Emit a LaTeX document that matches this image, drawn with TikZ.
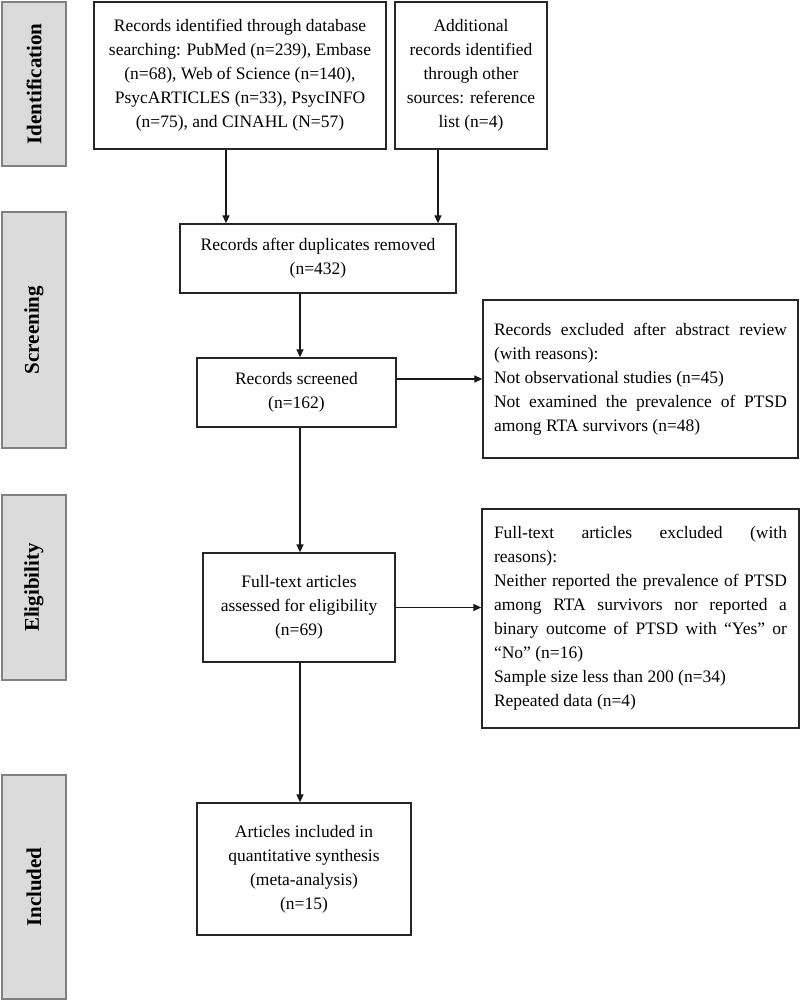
\documentclass[tikz,border=0pt]{standalone}
\usepackage{fontspec}
\setmainfont{Liberation Serif}
\usetikzlibrary{arrows.meta}
\newcommand{\mainsz}{\fontsize{17.5bp}{24bp}\selectfont}
\newcommand{\labsz}{\fontsize{21bp}{25bp}\selectfont}
\newcommand{\exsetup}{\setlength{\parindent}{0pt}\setlength{\parskip}{0pt}\hyphenpenalty=10000\relax}
\tikzset{
  box/.style={draw=black!85, line width=1.3bp, fill=white, inner sep=0pt, align=center, font=\mainsz},
  exbox/.style={draw=black!85, line width=1.3bp, fill=white, inner xsep=11bp, inner ysep=0pt,
    text width=293bp, align=justify, font=\mainsz},
  lab/.style={draw=black!50, fill=black!14, line width=1.2bp, rotate=90, inner sep=0pt, font=\labsz\bfseries},
  arr/.style={-{Triangle[length=8bp,width=7bp]}, line width=1.4bp, draw=black!90}
}
\begin{document}
\begin{tikzpicture}[x=1bp,y=-1bp]
\useasboundingbox (0,0) rectangle (800,1002);
% stage labels
\node[lab, minimum width=164bp, minimum height=64bp] (lid) at (34,84) {Identification};
\node[lab, minimum width=236bp, minimum height=64bp] (lsc) at (34,330) {Screening};
\node[lab, minimum width=185bp, minimum height=64bp] (lel) at (34,587.5) {Eligibility};
\node[lab, minimum width=224bp, minimum height=64bp] (lin) at (34,887) {Included};
% boxes
\node[box, minimum width=292bp, minimum height=147bp] (b1) at (240,75.5)
  {Records identified through database\\searching: PubMed (n=239), Embase\\(n=68), Web of Science (n=140),\\PsycARTICLES (n=33), PsycINFO\\(n=75), and CINAHL (N=57)};
\node[box, minimum width=152bp, minimum height=147bp] (b2) at (471,75.5)
  {Additional\\records identified\\through other\\sources: reference\\list (n=4)};
\node[box, minimum width=276bp, minimum height=69bp] (b3) at (318,258.5)
  {Records after duplicates removed\\(n=432)};
\node[box, minimum width=199bp, minimum height=69bp] (b4) at (296.5,392.5)
  {Records screened\\(n=162)};
\node[exbox, minimum width=315bp, minimum height=158bp] (e1) at (640.5,379)
  {\exsetup Records excluded after abstract review\linebreak (with reasons):\par
   Not observational studies (n=45)\par
   Not examined the prevalence of PTSD\linebreak among RTA survivors (n=48)};
\node[box, minimum width=192bp, minimum height=109bp] (b5) at (299,607.5)
  {Full-text articles\\assessed for eligibility\\(n=69)};
\node[exbox, minimum width=317bp, minimum height=219bp] (e2) at (640.5,618.5)
  {\exsetup Full-text articles excluded (with\linebreak reasons):\par
   Neither reported the prevalence of PTSD\linebreak among RTA survivors nor reported a\linebreak binary outcome of PTSD with “Yes” or\linebreak “No” (n=16)\par
   Sample size less than 200 (n=34)\par
   Repeated data (n=4)};
\node[box, minimum width=214bp, minimum height=132bp] (b6) at (304,869)
  {Articles included in\\quantitative synthesis\\(meta-analysis)\\(n=15)};
% connectors
\draw[arr] ([xshift=-14bp]b1.south) -- ([xshift=-14bp]b1.south |- b3.north);
\draw[arr] ([xshift=-33bp]b2.south) -- ([xshift=-33bp]b2.south |- b3.north);
\draw[arr] ([xshift=-18bp]b3.south) -- ([xshift=-18bp]b3.south |- b4.north);
\draw[arr] (b4.east |- e1.west) -- (e1.west);
\draw[arr] ([xshift=3.5bp]b4.south) -- ([xshift=3.5bp]b4.south |- b5.north);
\draw[arr] (b5.east) -- (b5.east -| e2.west);
\draw[arr] ([xshift=1bp]b5.south) -- ([xshift=1bp]b5.south |- b6.north);
\end{tikzpicture}
\end{document}
